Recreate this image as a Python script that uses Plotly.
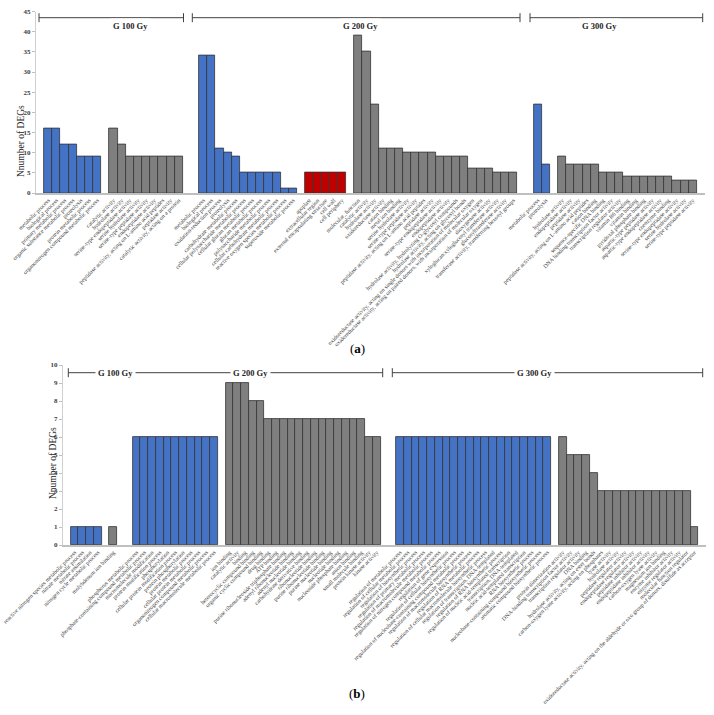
import plotly.graph_objects as go

W, H = 714, 715

# ---------------- Panel (a) data ----------------
a_g100_bp_labels = ["metabolic process", "biological process", "primary metabolic process",
                    "organic substance metabolic process", "proteolysis", "protein metabolic process",
                    "organonitrogen compound metabolic process"]
a_g100_bp_values = [16, 16, 12, 12, 9, 9, 9]

a_g100_mf_labels = ["catalytic activity", "hydrolase activity", "serine-type endopeptidase activity",
                    "serine hydrolase activity", "serine-type peptidase activity", "endopeptidase activity",
                    "peptidase activity, acting on L-amino acid peptides", "peptidase activity",
                    "catalytic activity, acting on a protein"]
a_g100_mf_values = [16, 12, 9, 9, 9, 9, 9, 9, 9]

a_g200_bp_labels = ["metabolic process", "biological process", "oxidation-reduction process", "proteolysis",
                    "carbohydrate metabolic process", "cellular polysaccharide metabolic process",
                    "cellular glucan metabolic process", "glucan metabolic process",
                    "polysaccharide metabolic process", "cellular carbohydrate metabolic process",
                    "reactive oxygen species metabolic process", "superoxide metabolic process"]
a_g200_bp_values = [34, 34, 11, 10, 9, 5, 5, 5, 5, 5, 1, 1]

a_g200_cc_labels = ["apoplast", "extracellular region", "external encapsulating structure",
                    "cell wall", "cell periphery"]
a_g200_cc_values = [5, 5, 5, 5, 5]

a_g200_mf_labels = ["molecular_function", "catalytic activity", "hydrolase activity", "oxidoreductase activity",
                    "cation binding", "metal ion binding", "serine hydrolase activity",
                    "serine-type peptidase activity", "peptidase activity, acting on L-amino acid peptides",
                    "peptidase activity", "serine-type endopeptidase activity", "endopeptidase activity",
                    "hydrolase activity, hydrolyzing O-glycosyl compounds",
                    "hydrolase activity, acting on glycosyl bonds",
                    "oxidoreductase activity, acting on single donors with incorporation of molecular oxygen",
                    "oxidoreductase activity, acting on paired donors, with incorporation of molecular oxygen",
                    "dioxygenase activity", "xyloglucan:xyloglucosyl transferase activity",
                    "glucosyltransferase activity", "transferase activity, transferring hexosyl groups"]
a_g200_mf_values = [39, 35, 22, 11, 11, 11, 10, 10, 10, 10, 9, 9, 9, 9, 6, 6, 6, 5, 5, 5]

a_g300_bp_labels = ["metabolic process", "proteolysis"]
a_g300_bp_values = [22, 7]

a_g300_mf_labels = ["hydrolase activity", "endopeptidase activity", "peptidase activity",
                    "peptidase activity, acting on L-amino acid peptides", "cation binding",
                    "sequence-specific DNA binding", "DNA binding transcription factor activity",
                    "transcription regulator activity", "vitamin B6 binding", "vitamin binding",
                    "pyridoxal phosphate binding", "aspartic-type peptidase activity",
                    "aspartic-type endopeptidase activity", "coenzyme binding",
                    "serine-type endopeptidase activity", "serine hydrolase activity",
                    "serine-type peptidase activity"]
a_g300_mf_values = [9, 7, 7, 7, 7, 5, 5, 5, 4, 4, 4, 4, 4, 4, 3, 3, 3]

# ---------------- Panel (b) data ----------------
b_g100_bp_labels = ["reactive nitrogen species metabolic process", "nitrate metabolic process",
                    "nitrate assimilation", "nitrogen cycle metabolic process"]
b_g100_bp_values = [1, 1, 1, 1]

b_g100_mf_labels = ["molybdenum ion binding"]
b_g100_mf_values = [1]

b_g200_bp_labels = ["phosphorus metabolic process", "phosphate-containing compound metabolic process",
                    "macromolecule modification", "protein modification process", "phosphorylation",
                    "cellular protein modification process", "protein phosphorylation",
                    "protein metabolic process", "cellular protein metabolic process",
                    "organonitrogen compound metabolic process", "cellular macromolecule metabolic process"]
b_g200_bp_values = [6, 6, 6, 6, 6, 6, 6, 6, 6, 6, 6]

b_g200_mf_labels = ["ion binding", "catalytic activity", "binding", "heterocyclic compound binding",
                    "organic cyclic compound binding", "drug binding", "ATP binding",
                    "purine ribonucleoside triphosphate binding", "adenyl ribonucleotide binding",
                    "adenyl nucleotide binding", "carbohydrate derivative binding", "ribonucleotide binding",
                    "purine ribonucleotide binding", "purine nucleotide binding", "nucleotide binding",
                    "nucleoside phosphate binding", "anion binding", "small molecule binding",
                    "protein kinase activity", "kinase activity"]
b_g200_mf_values = [9, 9, 9, 8, 8, 7, 7, 7, 7, 7, 7, 7, 7, 7, 7, 7, 7, 7, 6, 6]

b_g300_bp_labels = ["regulation of metabolic process", "regulation of cellular metabolic process",
                    "regulation of biosynthetic process", "regulation of primary metabolic process",
                    "regulation of macromolecule metabolic process",
                    "regulation of nitrogen compound metabolic process", "regulation of gene expression",
                    "regulation of cellular biosynthetic process",
                    "regulation of nucleobase-containing compound metabolic process",
                    "regulation of macromolecule biosynthetic process", "regulation of RNA metabolic process",
                    "regulation of cellular macromolecule biosynthetic process",
                    "regulation of transcription, DNA-templated", "regulation of RNA biosynthetic process",
                    "regulation of nucleic acid-templated transcription", "transcription, DNA-templated",
                    "nucleic acid-templated transcription", "RNA biosynthetic process",
                    "nucleobase-containing compound biosynthetic process", "aromatic compound biosynthetic process"]
b_g300_bp_values = [6, 6, 6, 6, 6, 6, 6, 6, 6, 6, 6, 6, 6, 6, 6, 6, 6, 6, 6, 6]

b_g300_mf_labels = ["protein dimerization activity", "DNA-binding transcription factor activity",
                    "transcription regulator activity", "DNA binding",
                    "hydrolase activity, acting on ester bonds",
                    "carbon-oxygen lyase activity, acting on phosphates", "lyase activity",
                    "hydrolase activity", "peptidase regulator activity", "endopeptidase regulator activity",
                    "peptidase inhibitor activity", "endopeptidase inhibitor activity",
                    "carbon-oxygen lyase activity", "magnesium ion binding", "enzyme inhibitor activity",
                    "enzyme regulator activity", "molecular function regulator",
                    "oxidoreductase activity, acting on the aldehyde or oxo group of donors, disulfide as acceptor"]
b_g300_mf_values = [6, 5, 5, 5, 4, 3, 3, 3, 3, 3, 3, 3, 3, 3, 3, 3, 3, 1]

group_titles = ["G 100 Gy", "G 200 Gy", "G 300 Gy"]
y_title = "Nnumber of DEGs"

BLUE, GRAY, RED = "#4472C4", "#7F7F7F", "#C00000"
SERIF = "Liberation Serif"

# group definitions: (labels, values, color, empty slots before the group)
panel_a = [
    (a_g100_bp_labels, a_g100_bp_values, BLUE, 1),
    (a_g100_mf_labels, a_g100_mf_values, GRAY, 1),
    (a_g200_bp_labels, a_g200_bp_values, BLUE, 2),
    (a_g200_cc_labels, a_g200_cc_values, RED, 1),
    (a_g200_mf_labels, a_g200_mf_values, GRAY, 1),
    (a_g300_bp_labels, a_g300_bp_values, BLUE, 2),
    (a_g300_mf_labels, a_g300_mf_values, GRAY, 1),
]
panel_b = [
    (b_g100_bp_labels, b_g100_bp_values, BLUE, 1),
    (b_g100_mf_labels, b_g100_mf_values, GRAY, 1),
    (b_g200_bp_labels, b_g200_bp_values, BLUE, 2),
    (b_g200_mf_labels, b_g200_mf_values, GRAY, 1),
    (b_g300_bp_labels, b_g300_bp_values, BLUE, 2),
    (b_g300_mf_labels, b_g300_mf_values, GRAY, 1),
]

fig = go.Figure()


def add_panel(groups, xa, ya):
    pos = -1
    tickvals, ticktext = [], []
    for labels, values, color, gap in groups:
        pos += gap
        xs = [pos + 1 + i for i in range(len(values))]
        pos = xs[-1]
        tickvals += xs
        ticktext += labels
        fig.add_trace(go.Bar(x=xs, y=values, width=1, marker=dict(color=color,
                      line=dict(color="#333333", width=0.8)), xaxis=xa, yaxis=ya,
                      showlegend=False, hoverinfo="y"))
    return tickvals, ticktext, pos + 1


tva, tta, enda = add_panel(panel_a, "x", "y")
tvb, ttb, endb = add_panel(panel_b, "x2", "y2")


def px(x):
    return x / W


def py(y):
    return 1 - y / H


xcommon = dict(showline=True, linecolor="#BFBFBF", linewidth=1.5, showgrid=False, zeroline=False,
               ticks="", tickangle=-45, tickfont=dict(family=SERIF, size=5.8, color="#404040"),
               automargin=False, tickmode="array", ticklabeloverflow="allow")
ycommon = dict(showline=True, linecolor="#D0D0D0", linewidth=1, showgrid=False, zeroline=False,
               ticks="outside", ticklen=3, tickcolor="#BFBFBF",
               tickfont=dict(family=SERIF, size=7, color="#404040", weight="bold"), automargin=False)

fig.update_layout(
    width=W, height=H, margin=dict(l=0, r=0, t=0, b=0),
    paper_bgcolor="white", plot_bgcolor="white", bargap=0,
    xaxis=dict(domain=[px(36), px(705)], range=[-0.5, enda + 0.5], tickvals=tva, ticktext=tta,
               anchor="y", **xcommon),
    yaxis=dict(domain=[py(193), py(11.5)], range=[0, 45], dtick=5, anchor="x", **ycommon),
    xaxis2=dict(domain=[px(63), px(706)], range=[-0.5, endb + 0.5], tickvals=tvb, ticktext=ttb,
                anchor="y2", **xcommon),
    yaxis2=dict(domain=[py(545), py(365)], range=[0, 10], dtick=1, anchor="x2", **ycommon),
)

# group brackets (x0, x1, text center, y) in pixels
brackets = [
    (39, 183.5, 110, 17.7, group_titles[0]),
    (192.3, 520, 360, 17.7, group_titles[1]),
    (530, 702.7, 620, 17.7, group_titles[2]),
    (68.3, 119, 94.5, 372.7, group_titles[0]),
    (128.3, 382.7, 251, 372.7, group_titles[1]),
    (392.3, 702.7, 555, 372.7, group_titles[2]),
]
LC = "#404040"
for x0, x1, xc, yy, txt in brackets:
    fig.add_shape(type="line", xref="paper", yref="paper", x0=px(x0), x1=px(x1), y0=py(yy), y1=py(yy),
                  line=dict(color=LC, width=1))
    for xe in (x0, x1):
        fig.add_shape(type="line", xref="paper", yref="paper", x0=px(xe), x1=px(xe),
                      y0=py(yy - 4.5), y1=py(yy + 4.5), line=dict(color=LC, width=1))
    fig.add_annotation(xref="paper", yref="paper", x=px(xc), y=py(yy), text="<b>%s</b>" % txt,
                       showarrow=False, bgcolor="white", borderpad=2,
                       font=dict(family=SERIF, size=8.5, color="#262626"))

# y-axis titles
fig.add_annotation(xref="paper", yref="paper", x=px(14), y=py(103), text=y_title,
                   textangle=-90, showarrow=False, font=dict(family=SERIF, size=9.5, color="#262626"))
fig.add_annotation(xref="paper", yref="paper", x=px(46), y=py(463), text=y_title,
                   textangle=-90, showarrow=False, font=dict(family=SERIF, size=9.5, color="#262626"))

# panel letters
fig.add_annotation(xref="paper", yref="paper", x=px(357), y=py(348), text="(<b>a</b>)",
                   showarrow=False, font=dict(family=SERIF, size=13, color="black"))
fig.add_annotation(xref="paper", yref="paper", x=px(357), y=py(703), text="(<b>b</b>)",
                   showarrow=False, font=dict(family=SERIF, size=13, color="black"))

fig.write_html("out.html", config={"displayModeBar": False},
               post_script="document.body.style.margin='0';document.body.style.overflow='hidden';")
